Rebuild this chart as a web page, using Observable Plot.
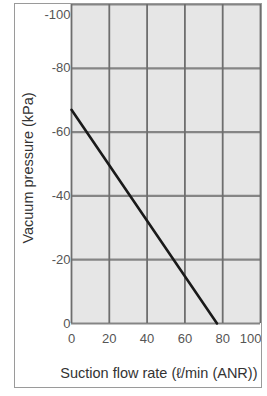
<!DOCTYPE html>
<html>
<head>
<meta charset="utf-8">
<script src="https://cdn.jsdelivr.net/npm/d3@7"></script>
<script src="https://cdn.jsdelivr.net/npm/@observablehq/plot@0.6"></script>
<style>
  html, body { margin: 0; padding: 0; background: #fff; }
  #wrap { position: relative; width: 267px; height: 396px; }
  #box { position: absolute; left: 14px; top: 3px; width: 246px; height: 383px; border: 1.5px solid #9a9a9a; box-sizing: content-box; pointer-events: none; }
  svg { font-family: "Liberation Sans", Arial, sans-serif; }
</style>
</head>
<body>
<div id="wrap"><div id="box"></div></div>
<script>
const flowRate = [0, 77];          // Suction flow rate (ℓ/min (ANR))
const vacuum = [-67, 0];           // Vacuum pressure (kPa)
const xTicks = [0, 20, 40, 60, 80];
const xLastTick = [100];
const yTicks = [0, -20, -40, -60, -80];
const yTopTick = [-100];
const xGrid = [0, 20, 40, 60, 80, 100];
const yGrid = [0, -20, -40, -60, -80, -100];
const xLabel = "Suction flow rate (ℓ/min (ANR))";
const yLabel = "Vacuum pressure (kPa)";

const data = flowRate.map((x, i) => ({x, y: vacuum[i]}));
const yFmt = d => (d === 0 ? "0" : "-" + Math.abs(d));

const chart = Plot.plot({
  width: 267,
  height: 396,
  marginLeft: 71,
  marginRight: 7,
  marginTop: 4,
  marginBottom: 73,
  style: {background: "transparent", fontFamily: "Liberation Sans, Arial, sans-serif"},
  x: {domain: [0, 100]},
  y: {domain: [0, -100]},
  marks: [
    Plot.frame({fill: "#e6e6e6", stroke: null}),
    Plot.gridY(yGrid, {stroke: "#858585", strokeOpacity: 1, strokeWidth: 2.2}),
    Plot.gridX(xGrid, {stroke: "#6e6e6e", strokeOpacity: 1, strokeWidth: 1.8}),
    Plot.axisX(xTicks, {tickSize: 0, tickPadding: 10, fontSize: 13, fill: "#555", label: null, tickFormat: d => String(d)}),
    Plot.axisX(xLastTick, {tickSize: 0, tickPadding: 10, fontSize: 13, fill: "#555", label: null, textAnchor: "end", dx: 1, tickFormat: d => String(d)}),
    Plot.axisY(yTicks, {tickSize: 0, tickPadding: 1, fontSize: 13, fill: "#555", label: null, tickFormat: yFmt}),
    Plot.axisY(yTopTick, {tickSize: 0, tickPadding: 1, fontSize: 13, fill: "#555", label: null, dy: 10, tickFormat: yFmt}),
    Plot.line(data, {x: "x", y: "y", stroke: "#1a1a1a", strokeWidth: 2.6}),
    Plot.text([yLabel], {frameAnchor: "left", textAnchor: "middle", rotate: -90, dx: -43, dy: 4, fontSize: 14.5, fill: "#333"}),
    Plot.text([xLabel], {frameAnchor: "bottom-right", textAnchor: "end", dx: -3, dy: 54, fontSize: 14.5, fill: "#333"})
  ]
});
document.getElementById("wrap").prepend(chart);
</script>
</body>
</html>
